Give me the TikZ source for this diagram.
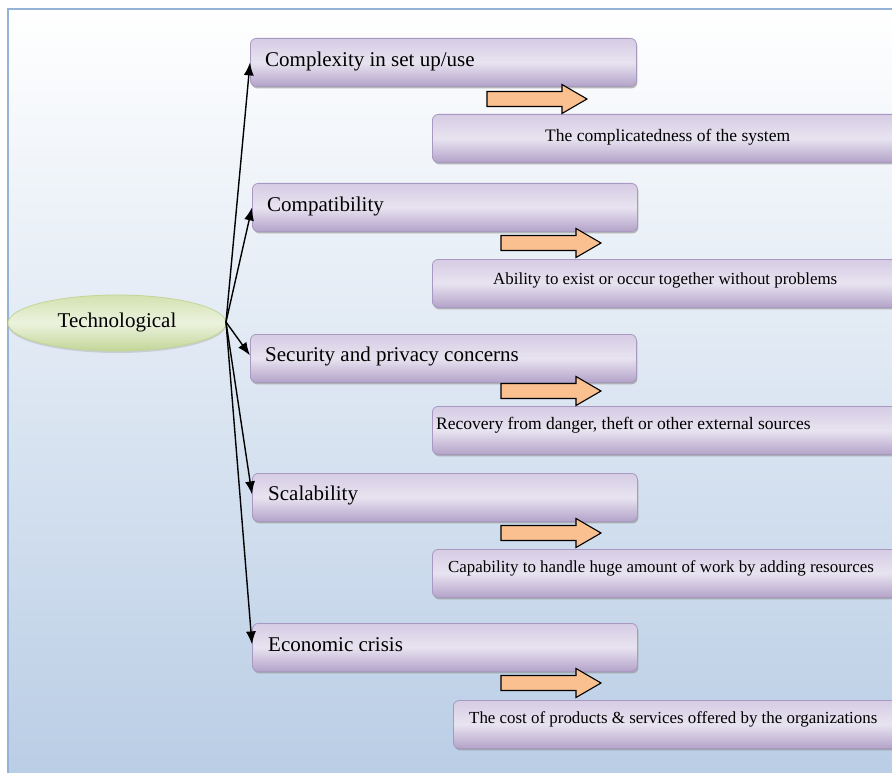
\documentclass[tikz,border=0pt]{standalone}
\usepackage{fontspec}
\setmainfont{Liberation Serif}
\usetikzlibrary{shapes.geometric,arrows.meta,shadows}
\definecolor{framec}{HTML}{95B3D7}
\definecolor{bgbot}{HTML}{B9CDE5}
\definecolor{boxtop}{HTML}{D6CCE4}
\definecolor{boxmid}{HTML}{E8E3F0}
\definecolor{boxbot}{HTML}{B3A3C9}
\definecolor{boxline}{HTML}{A898C2}
\definecolor{elltop}{HTML}{D3E2B0}
\definecolor{ellmid}{HTML}{ECF2DE}
\definecolor{ellbot}{HTML}{C2D697}
\definecolor{arrfill}{HTML}{FAC090}
\tikzset{
  x=1pt, y=-1pt,
  headbox/.style={draw=boxline, line width=0.8pt, rounded corners=6pt,
    top color=boxtop, bottom color=boxbot, middle color=boxmid,
    drop shadow={shadow xshift=1pt, shadow yshift=-2pt, fill=black!45, opacity=0.6},
    minimum height=48pt, inner sep=0pt, anchor=north west},
  headtext/.style={font=\fontsize{21}{25}\selectfont, anchor=west, inner sep=0pt},
  desctext/.style={font=\fontsize{17.5}{21}\selectfont, anchor=west, inner sep=0pt},
  desctextsm/.style={font=\fontsize{16.9}{20}\selectfont, anchor=west, inner sep=0pt},
  link/.style={line width=1.4pt, -{Latex[length=13pt,width=10pt]}},
  blockarr/.style={draw=black, line width=1.1pt, fill=arrfill, line join=miter},
}
\newcommand{\blockarrow}[2]{%
  \draw[blockarr] (#1,#2-7.5) -- (#1+75,#2-7.5) -- (#1+75,#2-14.5) -- (#1+100,#2)
    -- (#1+75,#2+14.5) -- (#1+75,#2+7.5) -- (#1,#2+7.5) -- cycle;}
\begin{document}
\begin{tikzpicture}
\useasboundingbox (0,0) rectangle (892,773);
\clip (0,0) rectangle (892,773);
\fill[white] (0,0) rectangle (892,773);
% background panel
\shade[top color=white, bottom color=bgbot] (8,9) rectangle (900,780);
\draw[framec, line width=2pt] (8,780) -- (8,9) -- (900,9);

% central ellipse
\node[ellipse, draw=ellbot, line width=0.8pt, top color=elltop, bottom color=ellbot, middle color=ellmid,
  minimum width=218pt, minimum height=56pt, inner sep=0pt,
  drop shadow={shadow xshift=0pt, shadow yshift=-2pt, fill=black!30, opacity=0.5}]
  (tech) at (117,323) {};
\node[headtext, anchor=center] (techt) at (117,322) {Technological};

% header boxes
\node[headbox, minimum width=386pt] (h1) at (250,38) {};
\node[headbox, minimum width=385pt] (h2) at (252,183) {};
\node[headbox, minimum width=386pt] (h3) at (250,334) {};
\node[headbox, minimum width=385pt] (h4) at (252,473) {};
\node[headbox, minimum width=385pt] (h5) at (252,623) {};
\node[headtext] (h1t) at (265,61) {Complexity in set up/use};
\node[headtext] (h2t) at (267,206) {Compatibility};
\node[headtext] (h3t) at (265,356) {Security and privacy concerns};
\node[headtext] (h4t) at (268,495) {Scalability};
\node[headtext] (h5t) at (268,645) {Economic crisis};

% description boxes
\node[headbox, minimum width=480pt] (d1) at (432,114) {};
\node[headbox, minimum width=480pt] (d2) at (432,259) {};
\node[headbox, minimum width=480pt] (d3) at (432,406) {};
\node[headbox, minimum width=480pt] (d4) at (432,549) {};
\node[headbox, minimum width=460pt] (d5) at (453,700) {};
\node[desctext] (d1t) at (545,137) {The complicatedness of the system};
\node[desctextsm] (d2t) at (493,280) {Ability to exist or occur together without problems};
\node[desctext] (d3t) at (436,425) {Recovery from danger, theft or other external sources};
\node[desctextsm] (d4t) at (448,568) {Capability to handle huge amount of work by adding resources};
\node[desctextsm] (d5t) at (469,719) {The cost of products \& services offered by the organizations};

% block arrows
\blockarrow{487}{99}
\blockarrow{501}{243}
\blockarrow{501}{391}
\blockarrow{501}{533}
\blockarrow{501}{683}

% connectors
\coordinate (src) at (226,322);
\draw[link] (src) -- (h1.west);
\draw[link] (src) -- (h2.west);
\draw[link] (src) -- ([yshift=3pt]h3.west);
\draw[link] (src) -- ([yshift=3pt]h4.west);
\draw[link] (src) -- ([yshift=3pt]h5.west);
\end{tikzpicture}
\end{document}
